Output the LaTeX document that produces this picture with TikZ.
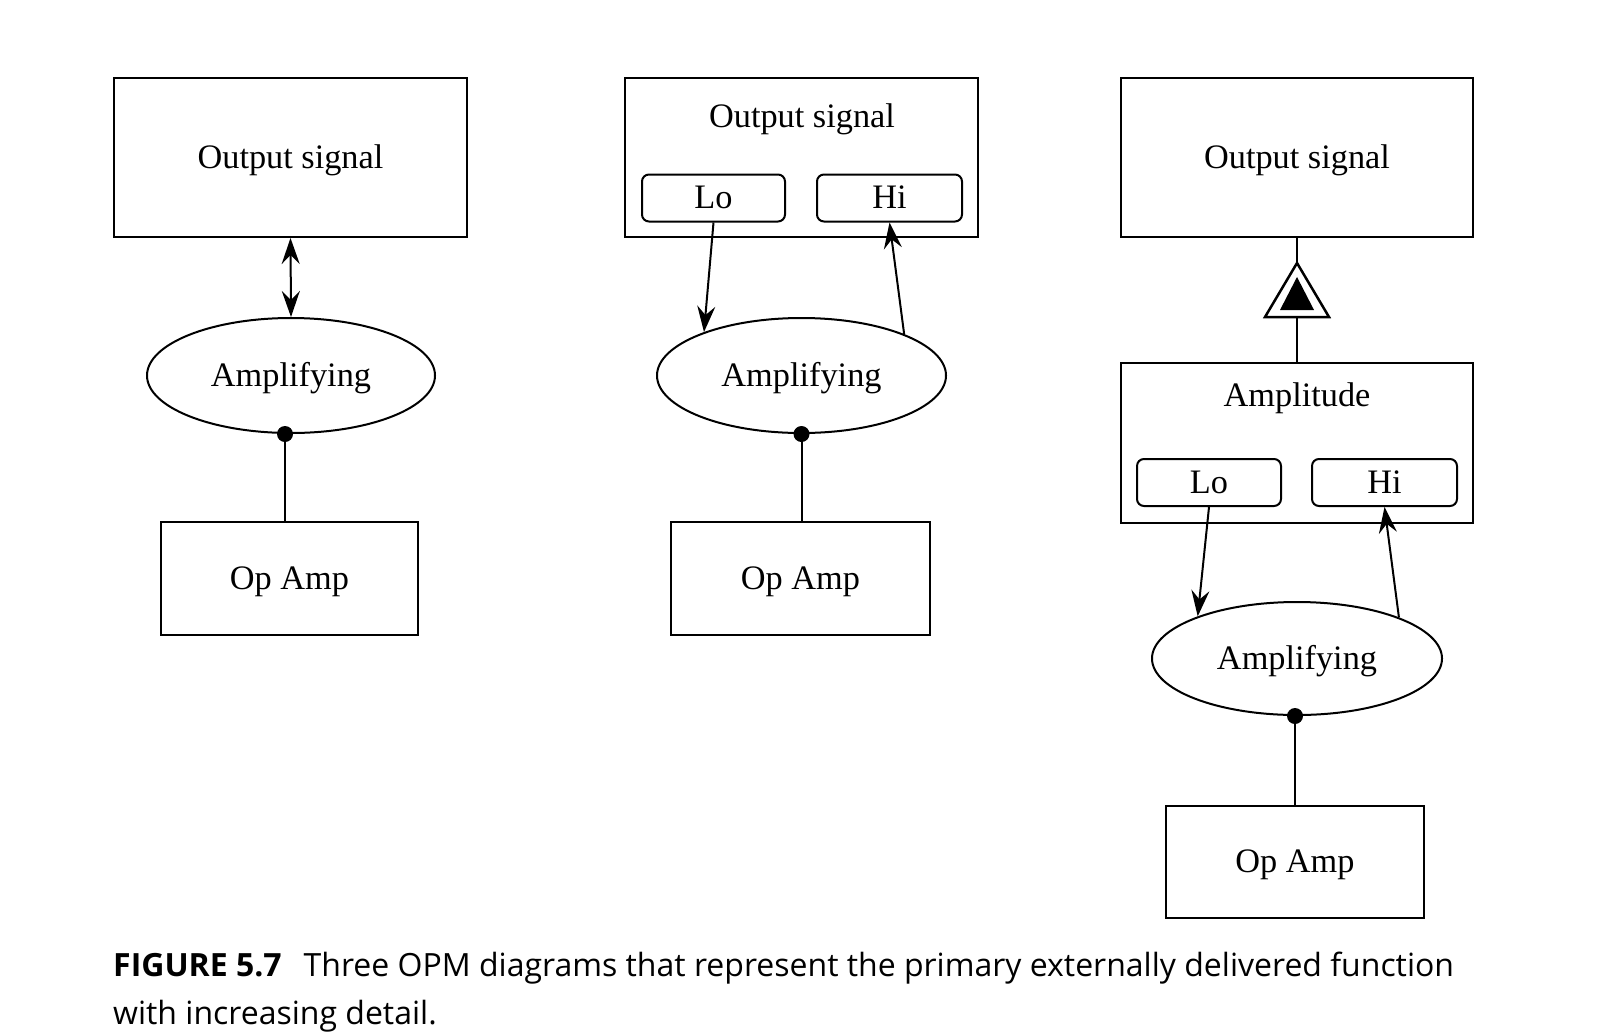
\documentclass[tikz,border=0pt]{standalone}
\usepackage{fontspec}
\setmainfont{Liberation Serif}
\newfontfamily\capfont{Open Sans}
\usetikzlibrary{shapes.geometric,arrows.meta,calc}
\tikzset{
  bigtip/.tip={Stealth[length=26pt,width=18pt,inset=9pt]},
}
\begin{document}
\begin{tikzpicture}[x=1pt,y=-1pt,
  serif/.style={font=\fontsize{34.3}{40}\selectfont, text height=29pt, text depth=7.5pt},
  txt/.style={serif, inner sep=0pt},
  objbox/.style={serif, draw, line width=2pt, rectangle, inner sep=0pt},
  statebox/.style={serif, draw, line width=2pt, rectangle, rounded corners=7pt, inner sep=0pt},
  proc/.style={serif, draw, line width=2pt, ellipse, inner sep=0pt},
  link/.style={line width=2pt},
  arr/.style={line width=2pt, -bigtip},
  darr/.style={line width=2pt, bigtip-bigtip},
  capstyle/.style={anchor=base west, inner sep=0pt, font=\capfont\fontsize{32}{36}\selectfont}
]
\useasboundingbox (0,0) rectangle (1600,1031);

% ---------- Panel 1 ----------
\node[objbox, minimum width=353pt, minimum height=159pt] (out1) at (290.5,157.5) {Output signal};
\node[proc, minimum width=288pt, minimum height=115pt] (amp1) at (291,375.5) {Amplifying};
\node[objbox, minimum width=257pt, minimum height=113pt] (op1) at (289.5,578.5) {Op Amp};
\draw[darr] (out1.south) -- (amp1.north);
\coordinate (d1) at ($(amp1.south)+(-6,0)$);
\draw[link] (d1) -- (d1 |- op1.north);
\fill (d1) circle (8);

% ---------- Panel 2 ----------
\node[objbox, minimum width=353pt, minimum height=159pt] (out2) at (801.5,157.5) {};
\node[txt] (out2t) at (802,117) {Output signal};
\node[statebox, minimum width=143pt, minimum height=47pt] (lo2) at (713.5,198) {Lo};
\node[statebox, minimum width=145pt, minimum height=47pt] (hi2) at (889.5,198) {Hi};
\node[proc, minimum width=289pt, minimum height=115pt] (amp2) at (801.5,375.5) {Amplifying};
\node[objbox, minimum width=259pt, minimum height=113pt] (op2) at (800.5,578.5) {Op Amp};
\draw[arr] (lo2.south) -- (amp2.156);
\draw[arr] (amp2.22) -- (hi2.south);
\coordinate (d2) at (amp2.south);
\draw[link] (d2) -- (d2 |- op2.north);
\fill (d2) circle (8);

% ---------- Panel 3 ----------
\node[objbox, minimum width=352pt, minimum height=159pt] (out3) at (1297,157.5) {Output signal};
\node[objbox, minimum width=352pt, minimum height=160pt] (ampl3) at (1297,443) {};
\node[txt] (ampl3t) at (1297,396) {Amplitude};
\node[statebox, minimum width=144pt, minimum height=47pt] (lo3) at (1209,482.5) {Lo};
\node[statebox, minimum width=145pt, minimum height=47pt] (hi3) at (1384.5,482.5) {Hi};
\node[proc, minimum width=290pt, minimum height=113pt] (amp3) at (1297,658.5) {Amplifying};
\node[objbox, minimum width=258pt, minimum height=112pt] (op3) at (1295,862) {Op Amp};
\coordinate (tritop) at (1297,263);
\coordinate (tribot) at (1297,317);
\draw[link] (out3.south) -- (tritop);
\draw[link] (tribot) -- (ampl3.north);
\draw[line width=2.5pt, fill=white, line join=miter] (tritop) -- (1265,317) -- (1329,317) -- cycle;
\fill (1297,277) -- (1280,310) -- (1314,310) -- cycle;
\draw[arr] (lo3.south) -- (amp3.157);
\draw[arr] (amp3.22) -- (hi3.south);
\coordinate (d3) at ($(amp3.south)+(-2,0)$);
\draw[link] (d3) -- (d3 |- op3.north);
\fill (d3) circle (8);

% ---------- Caption ----------
\node[capstyle] (cap1) at (113,976) {\textbf{FIGURE 5.7}\hspace{22pt}Three OPM diagrams that represent the primary externally delivered function};
\node[capstyle] (cap2) at (113,1024) {with increasing detail.};
\end{tikzpicture}
\end{document}
